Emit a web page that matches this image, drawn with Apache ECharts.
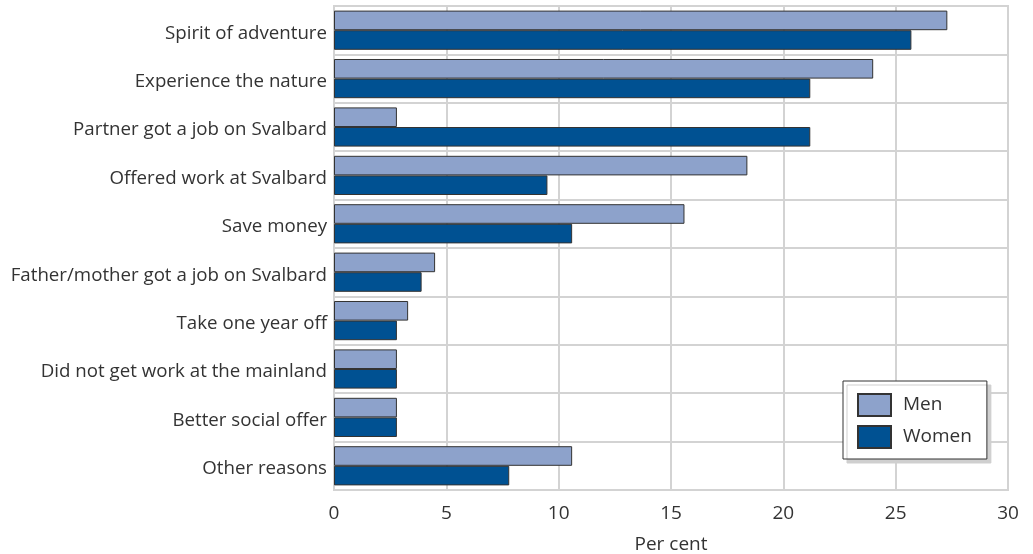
<!DOCTYPE html>
<html>
<head>
<meta charset="utf-8">
<script src="https://cdn.jsdelivr.net/npm/echarts@6/dist/echarts.min.js"></script>
<style>
  html, body { margin: 0; padding: 0; background: #fff; }
  #chart { width: 1033px; height: 554px; }
</style>
</head>
<body>
<div id="chart"></div>
<script>
// reasons for moving to Svalbard, per cent
const categories = [
  'Spirit of adventure',
  'Experience the nature',
  'Partner got a job on Svalbard',
  'Offered work at Svalbard',
  'Save money',
  'Father/mother got a job on Svalbard',
  'Take one year off',
  'Did not get work at the mainland',
  'Better social offer',
  'Other reasons'
]
const men = [27.3, 24.0, 2.8, 18.4, 15.6, 4.5, 3.3, 2.8, 2.8, 10.6]
const women = [25.7, 21.2, 21.2, 9.5, 10.6, 3.9, 2.8, 2.8, 2.8, 7.8]
const xTicks = [0, 5, 10, 15, 20, 25, 30]

const font = 'Open Sans'
const gridColor = '#d3d3d3'

const chart = echarts.init(document.getElementById('chart'), null, { renderer: 'canvas' })

chart.setOption({
  animation: false,
  textStyle: { fontFamily: font },
  grid: {
    left: 334,
    right: 25,
    top: 6,
    bottom: 64,
    outerBoundsMode: 'none',
    show: true,
    borderColor: gridColor,
    borderWidth: 2
  },
  legend: {
    orient: 'vertical',
    left: 843,
    top: 381,
    icon: 'rect',
    itemWidth: 33,
    itemHeight: 22,
    itemGap: 8,
    padding: [12, 15, 10, 14],
    backgroundColor: '#fff',
    borderColor: '#333',
    borderWidth: 1,
    shadowColor: '#cfcfcf',
    shadowBlur: 0,
    shadowOffsetX: 4,
    shadowOffsetY: 4,
    textStyle: { fontFamily: font, fontSize: 19, color: '#333', padding: [0, 0, 0, 7] },
    data: ['Men', 'Women']
  },
  xAxis: {
    type: 'value',
    min: xTicks[0],
    max: xTicks[xTicks.length - 1],
    interval: 5,
    name: 'Per cent',
    nameLocation: 'middle',
    nameGap: 45,
    nameTextStyle: { fontFamily: font, fontSize: 19, color: '#333' },
    axisLine: { show: true, lineStyle: { color: gridColor, width: 2 } },
    axisTick: { show: false },
    axisLabel: { fontFamily: font, fontSize: 19, color: '#333', margin: 14 },
    splitLine: { show: true, lineStyle: { color: gridColor, width: 2 } }
  },
  yAxis: {
    type: 'category',
    inverse: true,
    data: categories,
    axisLine: { show: true, lineStyle: { color: gridColor, width: 2 } },
    axisTick: { show: false },
    axisLabel: {
      fontFamily: font,
      fontSize: 18.7,
      color: '#333',
      margin: 7,
      verticalAlign: 'top',
      lineHeight: 6
    },
    splitLine: { show: true, lineStyle: { color: gridColor, width: 2 } }
  },
  series: [
    {
      name: 'Men',
      type: 'bar',
      data: men,
      barGap: '0%',
      barCategoryGap: '19%',
      itemStyle: { color: '#8da2cb', borderColor: '#333', borderWidth: 1 }
    },
    {
      name: 'Women',
      type: 'bar',
      data: women,
      barGap: '0%',
      barCategoryGap: '19%',
      itemStyle: { color: '#005192', borderColor: '#333', borderWidth: 1 }
    }
  ]
})
</script>
</body>
</html>
